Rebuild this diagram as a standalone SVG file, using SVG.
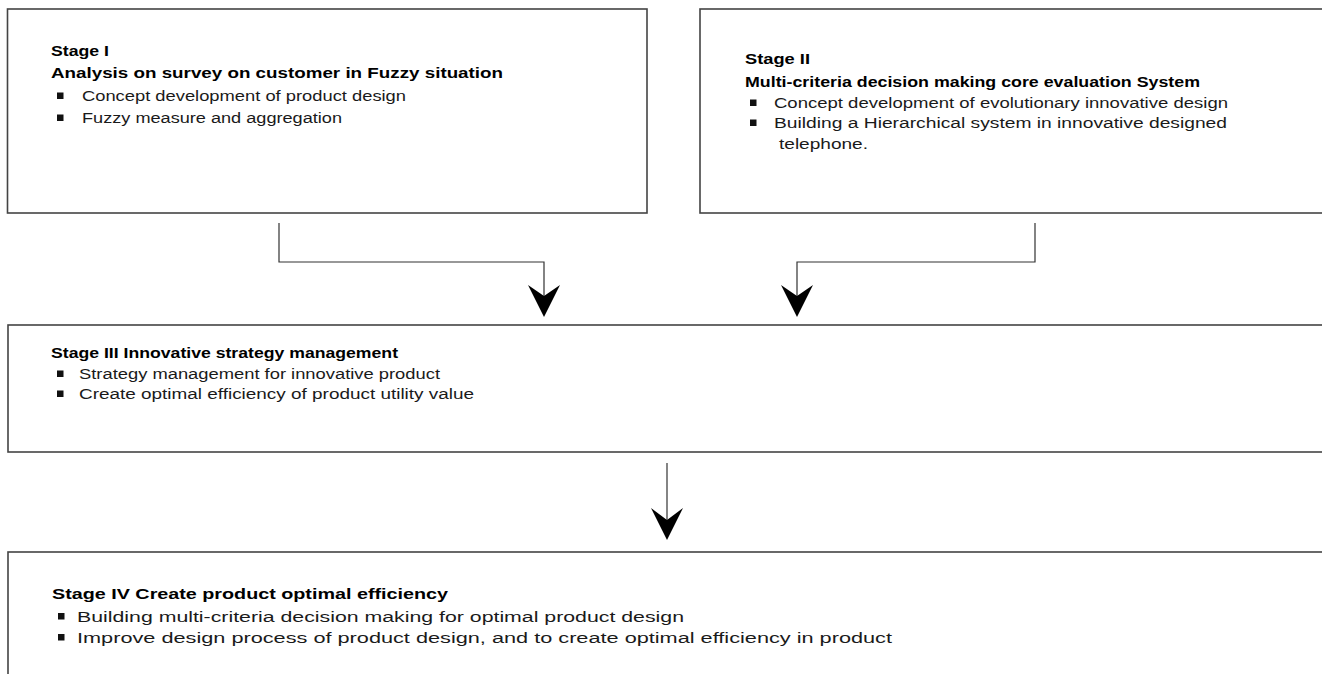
<svg xmlns="http://www.w3.org/2000/svg" width="1322" height="674" viewBox="0 0 1322 674">
<style>
.box{fill:#ffffff;stroke:#444;stroke-width:1.6}
.h{font-family:"Liberation Sans",Arial,sans-serif;font-weight:bold;font-size:15px;fill:#000}
.t{font-family:"Liberation Sans",Arial,sans-serif;font-size:15.5px;fill:#1a1a1a}
.bul{fill:#111}
.con{fill:none;stroke:#333;stroke-width:1.2}
.head{fill:#000}
</style>
<rect width="1322" height="674" fill="#ffffff"/>
<g id="stage1">
<rect class="box" x="7.5" y="9" width="639.5" height="204"/>
<text class="h" x="51" y="56" textLength="58" lengthAdjust="spacingAndGlyphs">Stage I</text>
<text class="h" x="51" y="78" textLength="452" lengthAdjust="spacingAndGlyphs">Analysis on survey on customer in Fuzzy situation</text>
<rect class="bul" x="57" y="92.5" width="6.5" height="6.5"/>
<text class="t" x="82" y="101" textLength="324" lengthAdjust="spacingAndGlyphs">Concept development of product design</text>
<rect class="bul" x="57" y="114.5" width="6.5" height="6.5"/>
<text class="t" x="82" y="123" textLength="260" lengthAdjust="spacingAndGlyphs">Fuzzy measure and aggregation</text>
</g>
<g id="stage2">
<rect class="box" x="700" y="9" width="630" height="204"/>
<text class="h" x="745" y="64" textLength="65" lengthAdjust="spacingAndGlyphs">Stage II</text>
<text class="h" x="745" y="87" textLength="455" lengthAdjust="spacingAndGlyphs">Multi-criteria decision making core evaluation System</text>
<rect class="bul" x="750" y="99.5" width="6.5" height="6.5"/>
<text class="t" x="774" y="108" textLength="454" lengthAdjust="spacingAndGlyphs">Concept development of evolutionary innovative design</text>
<rect class="bul" x="750" y="119.5" width="6.5" height="6.5"/>
<text class="t" x="774" y="128" textLength="453" lengthAdjust="spacingAndGlyphs">Building a Hierarchical system in innovative designed</text>
<text class="t" x="779" y="149" textLength="89" lengthAdjust="spacingAndGlyphs">telephone.</text>
</g>
<g id="stage3">
<rect class="box" x="8" y="325" width="1330" height="127"/>
<text class="h" x="51" y="358" textLength="347" lengthAdjust="spacingAndGlyphs">Stage III Innovative strategy management</text>
<rect class="bul" x="57" y="370.5" width="6.5" height="6.5"/>
<text class="t" x="79" y="379" textLength="361" lengthAdjust="spacingAndGlyphs">Strategy management for innovative product</text>
<rect class="bul" x="57" y="390.5" width="6.5" height="6.5"/>
<text class="t" x="79" y="399" textLength="395" lengthAdjust="spacingAndGlyphs">Create optimal efficiency of product utility value</text>
</g>
<g id="stage4">
<rect class="box" x="8" y="552" width="1330" height="140"/>
<text class="h" x="52" y="599" textLength="396" lengthAdjust="spacingAndGlyphs">Stage IV Create product optimal efficiency</text>
<rect class="bul" x="58" y="613" width="6.5" height="6.5"/>
<text class="t" x="77" y="621.5" textLength="607" lengthAdjust="spacingAndGlyphs">Building multi-criteria decision making for optimal product design</text>
<rect class="bul" x="58" y="634" width="6.5" height="6.5"/>
<text class="t" x="77" y="642.5" textLength="815" lengthAdjust="spacingAndGlyphs">Improve design process of product design, and to create optimal efficiency in product</text>
</g>
<g id="connectors">
<path class="con" d="M279 223 V262 H544 V300"/>
<polygon class="head" points="528,285 544,296 560,285 544,317"/>
<path class="con" d="M1035 223 V262 H797 V300"/>
<polygon class="head" points="781,285 797,296 813,285 797,317"/>
<path class="con" d="M667 463 V525"/>
<polygon class="head" points="651,508 667,520 683,508 667,540"/>
</g>
</svg>
